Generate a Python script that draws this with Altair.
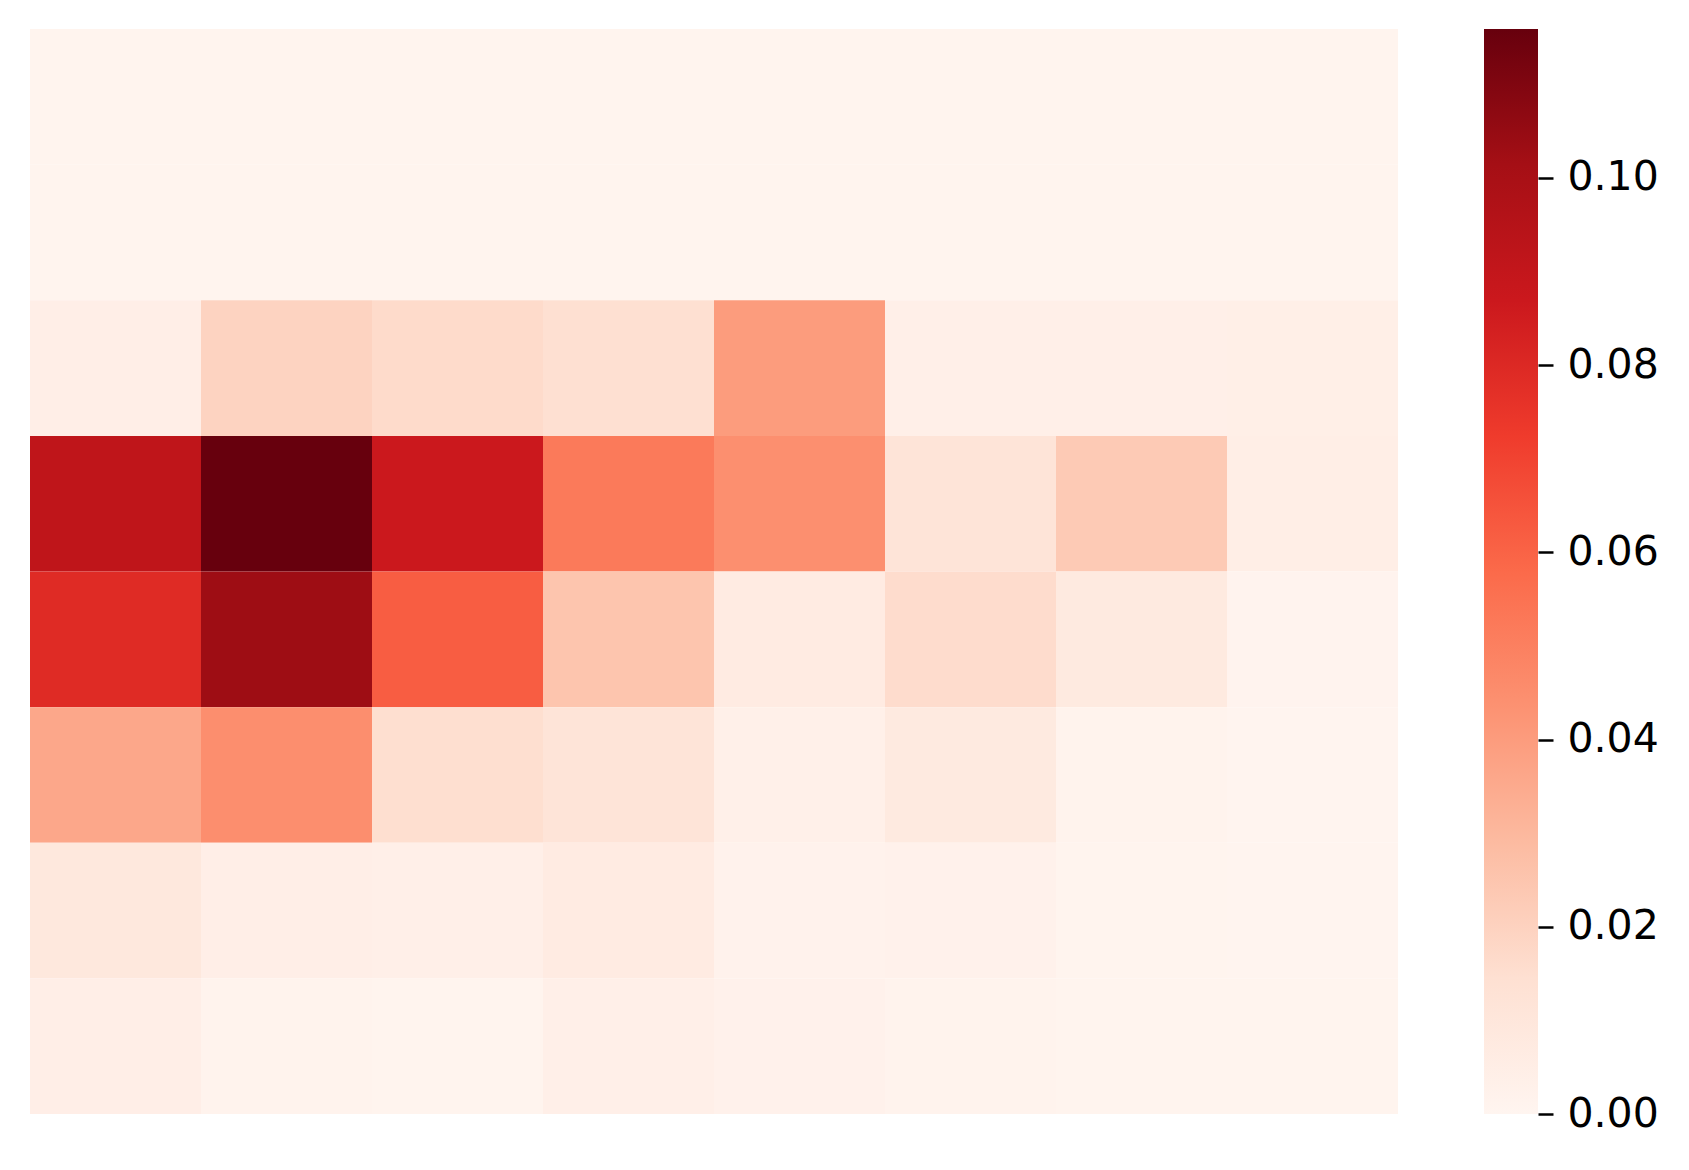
import altair as alt
import pandas as pd

# Columns (left to right) and rows (top to bottom)
cols = ["c0", "c1", "c2", "c3", "c4", "c5", "c6", "c7"]
rows = ["r0", "r1", "r2", "r3", "r4", "r5", "r6", "r7"]

row0 = [0.0008, 0.0008, 0.0008, 0.0008, 0.0008, 0.0008, 0.0008, 0.0008]
row1 = [0.0008, 0.0008, 0.0008, 0.0008, 0.0008, 0.0008, 0.0008, 0.0008]
row2 = [0.0045, 0.0196, 0.0165, 0.0145, 0.0400, 0.0040, 0.0040, 0.0042]
row3 = [0.0916, 0.1159, 0.0870, 0.0520, 0.0445, 0.0118, 0.0230, 0.0048]
row4 = [0.0790, 0.1030, 0.0620, 0.0250, 0.0070, 0.0160, 0.0075, 0.0012]
row5 = [0.0360, 0.0450, 0.0150, 0.0118, 0.0035, 0.0075, 0.0015, 0.0006]
row6 = [0.0090, 0.0045, 0.0040, 0.0070, 0.0020, 0.0025, 0.0010, 0.0006]
row7 = [0.0045, 0.0015, 0.0010, 0.0040, 0.0025, 0.0015, 0.0010, 0.0010]
grid = [row0, row1, row2, row3, row4, row5, row6, row7]

vmax = 0.1159
bar_ticks = [0.0, 0.02, 0.04, 0.06, 0.08, 0.10]

reds = ["#fff5f0", "#fee0d2", "#fcbba1", "#fc9272", "#fb6a4a",
        "#ef3b2c", "#cb181d", "#a50f15", "#67000d"]
stops = [vmax * i / (len(reds) - 1) for i in range(len(reds))]

records = []
for r, vals in zip(rows, grid):
    for c, v in zip(cols, vals):
        records.append({"row": r, "col": c, "value": v})
df = pd.DataFrame(records)

heat = alt.Chart(df).mark_rect().encode(
    x=alt.X("col:N", sort=cols, axis=None,
            scale=alt.Scale(paddingInner=0, paddingOuter=0)),
    y=alt.Y("row:N", sort=rows, axis=None,
            scale=alt.Scale(paddingInner=0, paddingOuter=0)),
    color=alt.Color("value:Q", legend=None,
                    scale=alt.Scale(domain=stops, range=reds, interpolate="rgb")),
).properties(width=1368, height=1085)

bar_df = pd.DataFrame({"lo": [0.0], "hi": [vmax], "x0": [0], "x1": [1]})
gradient = {
    "gradient": "linear",
    "x1": 0, "y1": 1, "x2": 0, "y2": 0,
    "stops": [{"offset": i / (len(reds) - 1), "color": c} for i, c in enumerate(reds)],
}
cbar = alt.Chart(bar_df).mark_rect(color=gradient).encode(
    x=alt.X("x0:Q", axis=None, scale=alt.Scale(domain=[0, 1], nice=False, zero=False)),
    x2="x1",
    y=alt.Y("lo:Q", title=None,
            scale=alt.Scale(domain=[0, vmax], nice=False, zero=False),
            axis=alt.Axis(orient="right", values=bar_ticks, format=".2f",
                          domain=False, grid=False, tickSize=15, tickWidth=2.5,
                          tickColor="black", labelColor="black",
                          labelFont="DejaVu Sans", labelFontSize=41,
                          labelPadding=14, labelFlush=False, labelOverlap=False)),
    y2="hi",
).properties(width=54, height=1085)

chart = alt.hconcat(heat, cbar, spacing=86).properties(
    padding={"left": 22, "top": 21, "right": 10, "bottom": 30},
    background="white",
).configure_view(stroke=None)

chart.save("out.html", embed_options={"renderer": "svg", "actions": False})
